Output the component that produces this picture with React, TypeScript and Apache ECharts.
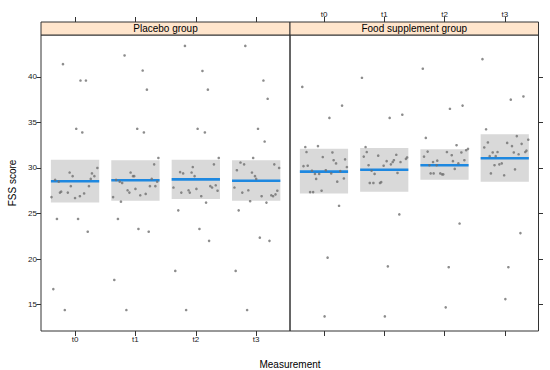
import React, { useEffect, useRef } from "react";
import * as echarts from "echarts";

const timeLabels = ["t0", "t1", "t2", "t3"];
const panelTitles = ["Placebo group", "Food supplement group"];
const yTicks = [15, 20, 25, 30, 35, 40];

// [jitter, FSS score]
const placeboT0 = [[-0.2,41.4],[0.09,39.6],[0.18,39.6],[0.02,34.3],[0.12,33.9],[0.37,30.0],[-0.09,29.5],[-0.04,29.1],[0.28,29.4],[0.32,29.1],[0.26,28.8],[-0.33,28.7],[-0.27,28.5],[-0.07,28.0],[0.23,28.0],[-0.39,26.8],[-0.25,27.3],[-0.23,27.4],[-0.12,27.3],[0,26.7],[0.08,26.9],[0.15,27.2],[-0.3,24.4],[0.05,24.4],[0.21,23.0],[-0.36,16.7],[-0.17,14.4]];
const placeboT1 = [[-0.18,42.35],[0.12,40.7],[0.19,38.6],[0.03,34.3],[0.14,33.9],[0.38,31.1],[0.31,30.4],[-0.08,29.5],[-0.04,29.1],[-0.02,29.1],[-0.32,28.7],[-0.26,28.5],[-0.22,28.35],[0.27,28.8],[0.36,28.5],[0.24,28.0],[0.33,28.0],[-0.13,27.55],[-0.1,27.3],[0,27.7],[0.08,27.0],[0.17,27.15],[-0.37,26.8],[-0.24,26.3],[-0.29,24.4],[0.05,23.3],[0.22,23.0],[-0.35,17.7],[-0.15,14.4]];
const placeboT2 = [[-0.18,43.4],[0.11,40.65],[0.2,38.6],[0.03,34.3],[0.15,33.9],[0.38,31.1],[0.3,30.4],[-0.05,30.1],[-0.26,29.55],[-0.21,29.4],[-0.07,29.5],[-0.02,29.1],[-0.37,27.85],[-0.24,27.3],[-0.12,27.55],[-0.1,27.3],[0.01,27.7],[0.09,26.9],[0.24,28.0],[0.27,27.85],[0.33,28.1],[0.36,27.5],[0.17,26.2],[-0.29,25.35],[0.06,23.3],[0.22,22.0],[-0.34,18.7],[-0.16,14.4]];
const placeboT3 = [[-0.18,43.4],[0.12,39.6],[0.19,37.6],[0.03,34.3],[0.14,32.9],[-0.05,31.1],[-0.26,30.6],[-0.2,30.4],[0.3,30.4],[0.38,30.0],[-0.32,29.75],[-0.07,29.5],[-0.02,29.1],[0,28.8],[-0.36,27.85],[-0.23,27.3],[-0.13,27.55],[0.09,26.9],[0.17,26.2],[-0.1,26.35],[0.25,27.0],[0.28,26.9],[0.32,27.1],[0.35,27.5],[-0.29,25.35],[0.06,22.35],[0.22,22.0],[-0.34,18.7],[-0.15,14.4]];

const foodT0 = [[-0.36,38.9],[0.3,36.85],[0.09,35.5],[-0.31,32.3],[-0.1,32.4],[-0.29,31.75],[0.14,31.7],[-0.02,31.2],[0.16,30.85],[0.35,30.95],[0.2,30.5],[-0.34,30.2],[-0.27,30.25],[0.38,30.1],[-0.2,29.7],[0.03,29.75],[0.27,29.65],[-0.15,29.35],[-0.08,29.35],[0.12,29.4],[-0.13,28.8],[0.33,28.85],[0.22,28.5],[-0.04,27.5],[-0.23,27.35],[-0.18,27.35],[0.25,25.85],[0.06,20.15],[0.01,13.7]];
const foodT1 = [[-0.37,39.9],[0.3,35.85],[0.09,35.5],[-0.31,32.3],[-0.29,31.75],[-0.1,31.35],[-0.34,31.25],[0.2,31.45],[0.38,31.15],[0.36,31.0],[0.04,30.75],[0.16,30.85],[0.14,30.65],[0.27,30.65],[-0.26,30.3],[-0.01,30.25],[0.11,30.4],[-0.21,29.7],[-0.16,29.35],[0.22,29.45],[-0.24,28.35],[-0.18,28.35],[-0.07,28.35],[-0.05,28.45],[0.25,24.9],[0.06,19.2],[0.01,13.7]];
const foodT2 = [[-0.36,40.9],[0.3,36.85],[0.09,36.5],[-0.31,33.3],[-0.28,31.8],[0.04,31.75],[0.2,32.5],[-0.34,31.25],[0.12,31.4],[0.28,31.7],[0.36,31.95],[0.39,32.1],[-0.19,30.65],[-0.12,30.8],[0.14,30.75],[0.33,30.85],[-0.25,30.3],[-0.13,30.3],[0.23,30.5],[0.17,29.9],[-0.23,29.4],[-0.18,29.4],[-0.07,29.4],[-0.04,29.3],[-0.02,29.3],[0.25,23.9],[0.07,19.1],[0.02,14.7]];
const foodT3 = [[-0.37,41.95],[0.31,37.85],[0.1,37.5],[-0.31,34.25],[-0.28,32.8],[0.04,32.75],[0.2,33.5],[-0.34,32.25],[0.12,32.4],[0.28,32.65],[0.36,31.9],[0.34,31.75],[0.39,33.1],[-0.2,31.7],[-0.12,31.75],[0.15,31.7],[-0.25,31.3],[-0.15,31.3],[0.23,31.5],[-0.17,30.3],[-0.09,30.4],[-0.05,30.5],[0.17,29.85],[-0.23,29.4],[-0.01,29.2],[0.26,22.85],[0.06,19.1],[0.01,15.6]];

const placeboLow = [26.2, 26.4, 26.6, 26.4];
const placeboHigh = [30.9, 30.85, 30.9, 30.85];
const placeboMean = [28.55, 28.65, 28.75, 28.6];
const foodLow = [27.2, 27.4, 28.7, 28.5];
const foodHigh = [32.1, 32.2, 32.05, 33.7];
const foodMean = [29.6, 29.8, 30.3, 31.07];

const FONT = "Liberation Sans, Arial, Helvetica, sans-serif";
const INK = "#333";
const XMIN = -0.564;
const XMAX = 3.56;
const BOX_HALF = 0.4;
const GRID_TOP = 35;
const GRID_H = 296;
const STRIP_H = 13;
const G1_LEFT = 41;
const G1_W = 249;
const G2_LEFT = 290;
const G2_W = 248.5;

function toPoints(groups: number[][][]) {
  const out: number[][] = [];
  groups.forEach((pts, i) => pts.forEach(([j, v]) => out.push([i + j, v])));
  return out;
}
function toBoxes(lo: number[], hi: number[], mean: number[]) {
  return lo.map((l, i) => [i, l, hi[i], mean[i]]);
}

const renderBox = (params: any, api: any) => {
  const x = api.value(0), lo = api.value(1), hi = api.value(2), m = api.value(3);
  const p1 = api.coord([x - BOX_HALF, hi]);
  const p2 = api.coord([x + BOX_HALF, lo]);
  const m1 = api.coord([x - BOX_HALF, m]);
  const m2 = api.coord([x + BOX_HALF, m]);
  return {
    type: "group",
    children: [
      { type: "rect", shape: { x: p1[0], y: p1[1], width: p2[0] - p1[0], height: p2[1] - p1[1] }, style: { fill: "#d9d9d9" } },
      { type: "line", shape: { x1: m1[0], y1: m1[1], x2: m2[0], y2: m2[1] }, style: { stroke: "#1e88e0", lineWidth: 2.6 } },
    ],
  };
};

function xAxis(grid: number, position: "top" | "bottom", labels: boolean) {
  return {
    type: "value",
    gridIndex: grid,
    position,
    offset: position === "top" ? STRIP_H : 0,
    min: XMIN,
    max: XMAX,
    splitLine: { show: false },
    axisLine: { show: false, onZero: false },
    axisTick: { show: true, inside: false, length: 5, customValues: [0, 1, 2, 3], lineStyle: { color: INK } },
    axisLabel: {
      show: labels,
      customValues: [0, 1, 2, 3],
      formatter: (v: number) => timeLabels[Math.round(v)] ?? "",
      fontSize: 8,
      fontFamily: FONT,
      color: "#222",
      margin: 4,
    },
  };
}
function yAxis(grid: number, position: "left" | "right", labels: boolean) {
  return {
    type: "value",
    gridIndex: grid,
    position,
    min: 12.1,
    max: 44.6,
    splitLine: { show: false },
    axisLine: { show: false, onZero: false },
    axisTick: { show: true, inside: false, length: 4.5, customValues: yTicks, lineStyle: { color: INK } },
    axisLabel: {
      show: labels,
      customValues: yTicks,
      fontSize: 8,
      fontFamily: FONT,
      color: "#222",
      margin: 4,
    },
  };
}

export default function App() {
  const ref = useRef<HTMLDivElement>(null);
  useEffect(() => {
    if (!ref.current) return;
    const chart = echarts.init(ref.current, undefined, { renderer: "svg" });
    const pointStyle = { color: "#6f6f6f" };
    chart.setOption({
      animation: false,
      backgroundColor: "#fff",
      grid: [
        { left: G1_LEFT, top: GRID_TOP, width: G1_W, height: GRID_H, show: true, borderColor: INK, borderWidth: 1, backgroundColor: "transparent" },
        { left: G2_LEFT, top: GRID_TOP, width: G2_W, height: GRID_H, show: true, borderColor: INK, borderWidth: 1, backgroundColor: "transparent" },
      ],
      xAxis: [
        xAxis(0, "bottom", true),
        xAxis(0, "top", false),
        xAxis(1, "bottom", false),
        xAxis(1, "top", true),
      ],
      yAxis: [
        yAxis(0, "left", true),
        yAxis(1, "right", false),
      ],
      series: [
        { type: "custom", xAxisIndex: 0, yAxisIndex: 0, renderItem: renderBox, data: toBoxes(placeboLow, placeboHigh, placeboMean), encode: { x: 0, y: [1, 2, 3] }, z: 1, silent: true },
        { type: "custom", xAxisIndex: 2, yAxisIndex: 1, renderItem: renderBox, data: toBoxes(foodLow, foodHigh, foodMean), encode: { x: 0, y: [1, 2, 3] }, z: 1, silent: true },
        { type: "scatter", xAxisIndex: 0, yAxisIndex: 0, symbol: "circle", symbolSize: 2.6, itemStyle: pointStyle, data: toPoints([placeboT0, placeboT1, placeboT2, placeboT3]), z: 3 },
        { type: "scatter", xAxisIndex: 2, yAxisIndex: 1, symbol: "circle", symbolSize: 2.6, itemStyle: pointStyle, data: toPoints([foodT0, foodT1, foodT2, foodT3]), z: 3 },
      ],
      graphic: [
        { type: "rect", shape: { x: G1_LEFT, y: GRID_TOP - STRIP_H, width: G1_W, height: STRIP_H }, style: { fill: "#ffe5cc", stroke: INK, lineWidth: 1 }, z: 10 },
        { type: "rect", shape: { x: G2_LEFT, y: GRID_TOP - STRIP_H, width: G2_W, height: STRIP_H }, style: { fill: "#ffe5cc", stroke: INK, lineWidth: 1 }, z: 10 },
        { type: "text", x: G1_LEFT + G1_W / 2, y: GRID_TOP - STRIP_H / 2, style: { text: panelTitles[0], fontSize: 10, fontFamily: FONT, fill: "#000", align: "center", verticalAlign: "middle" }, z: 11 },
        { type: "text", x: G2_LEFT + G2_W / 2, y: GRID_TOP - STRIP_H / 2, style: { text: panelTitles[1], fontSize: 10, fontFamily: FONT, fill: "#000", align: "center", verticalAlign: "middle" }, z: 11 },
        { type: "text", x: 290, y: 364, style: { text: "Measurement", fontSize: 10, fontFamily: FONT, fill: "#000", align: "center", verticalAlign: "middle" }, z: 11 },
        { type: "text", x: 12, y: 183, rotation: Math.PI / 2, style: { text: "FSS score", fontSize: 10, fontFamily: FONT, fill: "#000", align: "center", verticalAlign: "middle" }, z: 11 },
      ],
    });
    return () => chart.dispose();
  }, []);
  return <div ref={ref} style={{ position: "absolute", left: 0, top: 0, width: 550, height: 370 }} />;
}
